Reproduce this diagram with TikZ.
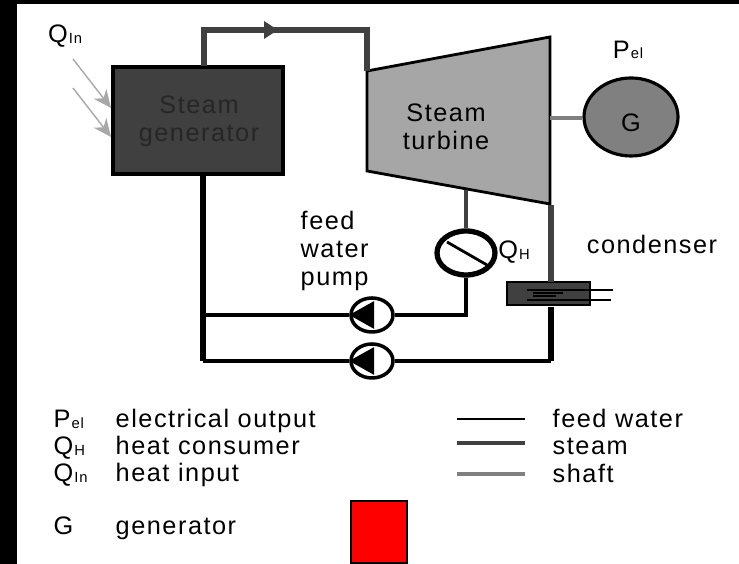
\documentclass[tikz,border=0pt]{standalone}
\usepackage{fontspec}
\setmainfont[LetterSpace=6]{Liberation Sans}
\usetikzlibrary{positioning,shapes.geometric,arrows.meta}
\newcommand{\lowtext}[1]{\kern0.3pt\raisebox{-0.2pt}{\fontsize{4.2}{4}\selectfont #1}}

\begin{document}
\begin{tikzpicture}[
    label/.style={font=\fontsize{7.2}{8}\selectfont, inner sep=0pt, align=left},
    middled/.style={label, align=center},
    legend/.style={label, anchor=base west},
    feed/.style={draw=black, line width=1pt},
    feedthick/.style={draw=black, line width=1.6pt},
    steam/.style={draw=steamgray, line width=1.6pt},
    steamthin/.style={draw=steamgray, line width=0.9pt},
    shaft/.style={draw=shaftgray, line width=1.1pt},
    heat/.style={draw=heatgray, line width=0.4pt, -{Stealth[length=0.18cm, width=0.16cm]}},
    pump/.style={ellipse, draw=black, fill=white, line width=1pt, minimum width=0.42cm, minimum height=0.34cm, inner sep=0pt}
  ]
  \definecolor{steamgray}{HTML}{404040}
  \definecolor{shaftgray}{HTML}{808080}
  \definecolor{heatgray}{HTML}{A8A8A8}
  \definecolor{turbgray}{HTML}{A6A6A6}

  \useasboundingbox (0,0) rectangle (7.39,5.64);
  % Black frame of the screenshot
  \fill[black] (0,0) rectangle (7.39,5.64);
  \fill[white] (0.17,0) rectangle (7.39,5.60);

  % Components
  \node[draw=black, fill=steamgray, line width=0.9pt, minimum width=1.70cm, minimum height=1.07cm, inner sep=0pt] (gen) at (1.98,4.435) {};
  \coordinate (t1) at (3.67,4.93);
  \coordinate (t2) at (5.50,5.27);
  \coordinate (t3) at (5.50,3.60);
  \coordinate (t4) at (3.67,3.93);
  \draw[fill=turbgray, line width=0.8pt] (t1) -- (t2) -- (t3) -- (t4) -- cycle;
  \node[ellipse, draw=black, fill=shaftgray, line width=0.9pt, minimum width=0.94cm, minimum height=0.78cm, inner sep=0pt] (G) at (6.31,4.47) {};
  \node[ellipse, draw=black, fill=white, line width=1.5pt, minimum width=0.58cm, minimum height=0.44cm, inner sep=0pt] (cons) at (4.66,3.11) {};
  \node[pump] (p1) at (3.72,2.49) {};
  \node[pump] (p2) at (3.72,2.03) {};
  \node[draw=black, fill=steamgray, line width=0.5pt, minimum width=0.83cm, minimum height=0.23cm, inner sep=0pt] (cond) at (5.485,2.705) {};

  % Steam
  \coordinate (s1) at (2.04,4.98);
  \coordinate (s2) at (2.04,5.34);
  \coordinate (s3) at (2.78,5.34);
  \coordinate (s4) at (3.67,5.34);
  \draw[steam] (s1) -- (s2) -- (s4) -- (t1);
  \draw[steam, -{Stealth[length=0.14cm, width=0.17cm, inset=0pt]}] (s2) -- (s3);
  \coordinate (c1) at (5.51,3.59);
  \coordinate (c2) at (5.51,2.82);
  \draw[steam] (c1) -- (c2);
  \coordinate (e1) at (4.66,3.74);
  \draw[steamthin] (e1) -- (cons.north);
  % Shaft
  \coordinate (h1) at (5.50,4.46);
  \draw[shaft] (h1) -- (G.west |- h1);
  % Feed water
  \coordinate (f1) at (2.03,3.89);
  \coordinate (f2) at (2.03,2.03);
  \coordinate (f3) at (2.03,2.49);
  \coordinate (f4) at (4.66,2.49);
  \coordinate (f5) at (5.51,2.03);
  \coordinate (f6) at (5.51,2.57);
  \draw[feedthick] (f1) -- (f2);
  \draw[feed] (f2) -- (p2.west);
  \draw[feedthick, line width=1.2pt] (f3) -- (p1.west);
  \draw[feed] (cons.south) -- (f4) -- (p1.east);
  \draw[feed, line width=1.2pt] (p2.east) -- (f5);
  \draw[feedthick] (f5) -- (f6);
  % Pump triangles, consumer slash
  \fill[black] (p1.west) -- ++(0.25,0.14) -- ++(0,-0.28) -- cycle;
  \fill[black] (p2.west) -- ++(0.25,0.14) -- ++(0,-0.28) -- cycle;
  \draw[black, line width=0.8pt] (4.47,3.22) -- (4.87,2.99);
  % Condenser
  \coordinate (k1) at (5.27,2.74);
  \coordinate (k2) at (6.13,2.74);
  \coordinate (k3) at (5.27,2.64);
  \coordinate (k4) at (6.11,2.64);
  \draw[black, line width=0.35pt] (k1) -- (k2);
  \draw[black, line width=0.35pt] (k3) -- (k4);
  \draw[black, line width=0.3pt] (5.33,2.71) -- (5.63,2.71) (5.33,2.68) -- (5.56,2.68);
  % Heat input
  \coordinate (q1) at (0.73,5.05);
  \coordinate (q2) at (1.11,4.56);
  \coordinate (q3) at (0.73,4.76);
  \coordinate (q4) at (1.11,4.27);
  \draw[heat] (q1) -- (q2);
  \draw[heat] (q3) -- (q4);

  % Labels
  \node[middled, text=black!85] (gent) at (1.99,4.425) {Steam\\generator};
  \node[middled] (turbt) at (4.46,4.37) {Steam\\turbine};
  \node[label] (Gt) at (6.31,4.41) {G};
  \node[label] (Qin) at (0.65,5.28) {Q\lowtext{In}};
  \node[label] (Pel) at (6.28,5.14) {P\lowtext{el}};
  \node[label] (QH) at (5.14,3.12) {Q\lowtext{H}};
  \node[label] (condt) at (6.52,3.20) {condenser};
  \node[label, anchor=west] (pumpt) at (3.00,3.13) {feed\\water\\pump};

  % Legend
  \node[legend] (l1) at (0.53,1.36) {P\lowtext{el}};
  \node[legend] (l2) at (0.53,1.09) {Q\lowtext{H}};
  \node[legend] (l3) at (0.53,0.82) {Q\lowtext{In}};
  \node[legend] (l4) at (0.53,0.29) {G};
  \node[legend] (d1) at (1.15,1.36) {electrical output};
  \node[legend] (d2) at (1.15,1.09) {heat consumer};
  \node[legend] (d3) at (1.15,0.82) {heat input};
  \node[legend] (d4) at (1.15,0.29) {generator};
  \node[legend] (w1) at (5.52,1.36) {feed water};
  \node[legend] (w2) at (5.52,1.09) {steam};
  \node[legend] (w3) at (5.52,0.81) {shaft};
  \coordinate (m1) at (4.57,1.45);
  \coordinate (m2) at (5.25,1.45);
  \coordinate (m3) at (4.57,1.21);
  \coordinate (m4) at (5.25,1.21);
  \coordinate (m5) at (4.57,0.90);
  \coordinate (m6) at (5.25,0.90);
  \draw[feed, line width=0.8pt] (m1) -- (m2);
  \draw[steam, line width=1pt] (m3) -- (m4);
  \draw[shaft] (m5) -- (m6);
  \node[draw=black, fill=red, line width=0.5pt, minimum width=0.56cm, minimum height=0.62cm, inner sep=0pt, anchor=south] (red) at (3.79,0) {};
\end{tikzpicture}
\end{document}
